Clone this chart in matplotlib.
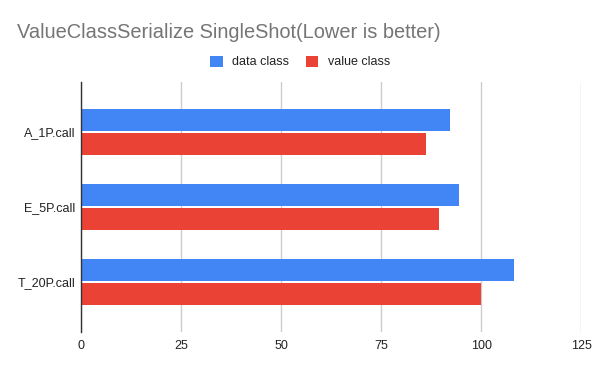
import numpy as np
import matplotlib.pyplot as plt

plt.rcParams['font.family'] = ['Liberation Sans', 'DejaVu Sans']

categories = ["A_1P.call", "E_5P.call", "T_20P.call"]
data_class = [92.3, 94.4, 108.2]
value_class = [86.2, 89.4, 99.9]
series_names = ["data class", "value class"]
colors = ["#4285F4", "#EA4335"]
xticks = [0, 25, 50, 75, 100, 125]

fig = plt.figure(figsize=(6, 3.71), dpi=100)
ax = fig.add_axes([0.1355, 0.105, 0.8333, 0.674])

y = np.arange(len(categories))
h = 0.293
ax.barh(y - 0.16, data_class, height=h, color=colors[0], label=series_names[0], zorder=3)
ax.barh(y + 0.16, value_class, height=h, color=colors[1], label=series_names[1], zorder=3)

ax.set_xlim(0, 125)
ax.set_ylim(2.667, -0.667)
ax.set_xticks(xticks)
ax.set_xticklabels([str(t) for t in xticks])
ax.set_yticks(y)
ax.set_yticklabels(categories)
ax.tick_params(axis='both', length=0, labelsize=9, colors='#222222')
ax.tick_params(axis='y', pad=4)
ax.tick_params(axis='x', pad=6)
ax.grid(axis='x', color='#cccccc', linewidth=1, zorder=0)
for s in ['top', 'right', 'bottom']:
    ax.spines[s].set_visible(False)
ax.spines['left'].set_color('#333333')
ax.spines['left'].set_linewidth(1)
ax.spines['left'].set_zorder(4)

fig.text(17 / 600, 1 - 32 / 371, "ValueClassSerialize SingleShot(Lower is better)",
         fontsize=14.4, color='#757575', ha='left', va='center')

fig.legend(loc='center', bbox_to_anchor=(300 / 600, 1 - 62 / 371), ncol=2,
           frameon=False, fontsize=9, handlelength=1.0, handleheight=1.0,
           handletextpad=0.75, columnspacing=1.33, labelcolor='#222222')

fig.savefig("out.png", dpi=100)
